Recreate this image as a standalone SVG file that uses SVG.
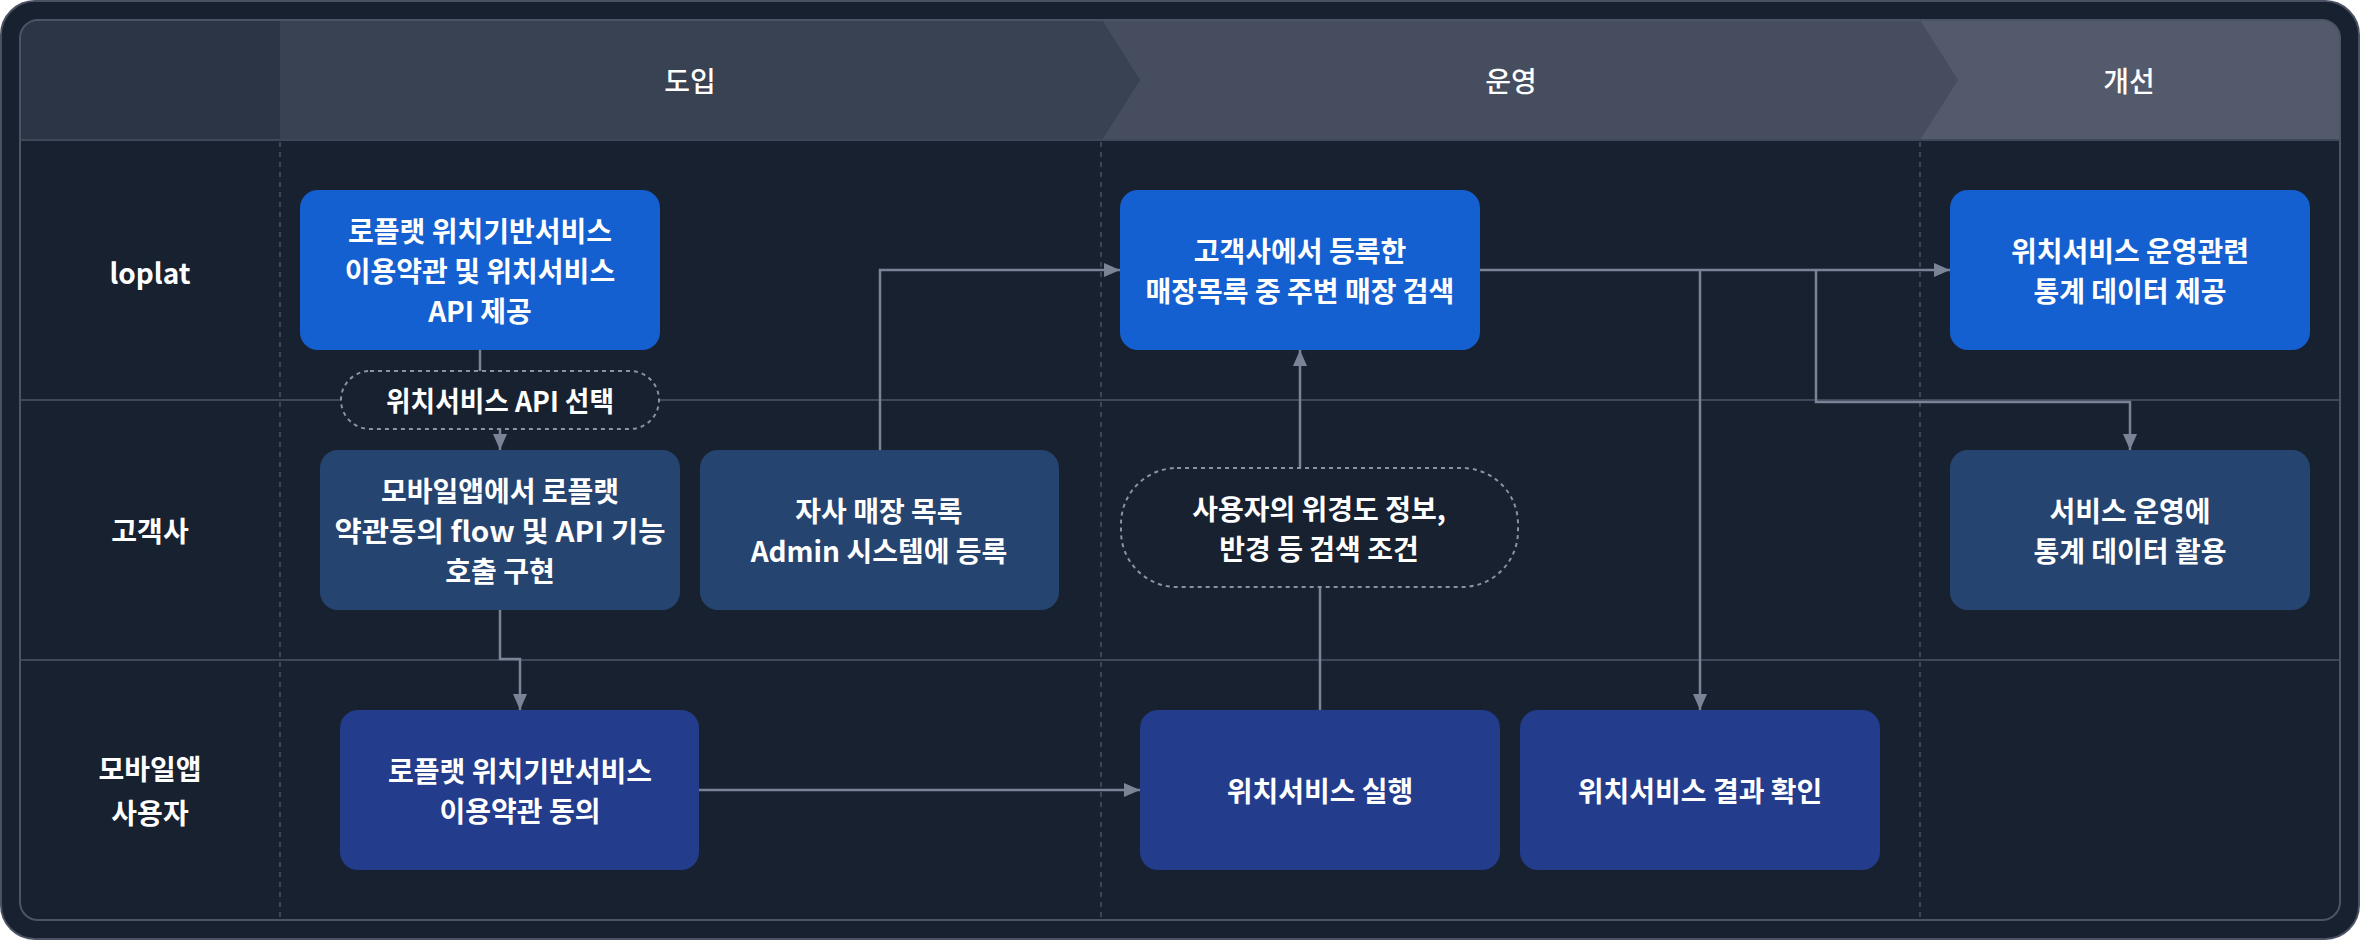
<svg xmlns="http://www.w3.org/2000/svg" width="2360" height="940" viewBox="0 0 2360 940">
<style>
.lane{stroke:#3f4758;stroke-width:2;fill:none}
.col{stroke:#4a5263;stroke-width:1.5;stroke-dasharray:5 5;fill:none}
.conn{stroke:#7a8496;stroke-width:2.5;fill:none}
.t{font-family:"Noto Sans CJK KR","Noto Sans",sans-serif;fill:#ffffff;text-anchor:middle;dominant-baseline:central}
.nt{font-size:28px;font-weight:600}
.ht{font-size:28px;font-weight:500}
.lt{font-size:28px;font-weight:700}
.b1{fill:#1560d0}
.b2{fill:#264470}
.b3{fill:#233c8b}
.pill{fill:#182130;stroke:#8a93a3;stroke-width:2;stroke-dasharray:4 4}
</style>
<defs>
<clipPath id="card"><rect x="20" y="20" width="2320" height="900" rx="18"/></clipPath>
<marker id="ah" markerUnits="userSpaceOnUse" markerWidth="16" markerHeight="16" viewBox="0 0 16 16" refX="16" refY="8" orient="auto"><path d="M0,1 L16,8 L0,15 Z" fill="#7a8496"/></marker>
</defs>
<rect x="1" y="1" width="2358" height="938" rx="34" fill="#18212f" stroke="#4a5162" stroke-width="2"/>
<rect x="20" y="20" width="2320" height="900" rx="18" fill="#182130"/>
<g id="header" clip-path="url(#card)">
<rect x="1100" y="20" width="1240" height="120" fill="#525a6c"/>
<polygon points="1100,20 1920,20 1958,80 1920,140 1100,140" fill="#454d5f"/>
<polygon points="280,20 1102,20 1140,80 1102,140 280,140" fill="#384252"/>
<rect x="20" y="20" width="260" height="120" fill="#2b3545"/>
<text class="t ht" x="690" y="80">도입</text>
<text class="t ht" x="1511" y="80">운영</text>
<text class="t ht" x="2129" y="80">개선</text>
</g>
<g id="grid">
<line class="lane" x1="20" y1="140" x2="2340" y2="140"/>
<line class="lane" x1="20" y1="400" x2="2340" y2="400"/>
<line class="lane" x1="20" y1="660" x2="2340" y2="660"/>
<line class="col" x1="280" y1="142" x2="280" y2="918"/>
<line class="col" x1="1101" y1="142" x2="1101" y2="918"/>
<line class="col" x1="1920" y1="142" x2="1920" y2="918"/>
</g>
<rect x="20" y="20" width="2320" height="900" rx="18" fill="none" stroke="#4b5365" stroke-width="2"/>
<g id="lanes">
<text class="t lt" x="150" y="272">loplat</text>
<text class="t lt" x="150" y="530">고객사</text>
<text class="t lt" x="150" y="768">모바일앱</text>
<text class="t lt" x="150" y="812">사용자</text>
</g>
<g id="connectors">
<path class="conn" d="M480,350 V371"/>
<path class="conn" d="M500,429 V450" marker-end="url(#ah)"/>
<path class="conn" d="M500,610 V659 H520 V710" marker-end="url(#ah)"/>
<path class="conn" d="M880,450 V270 H1120" marker-end="url(#ah)"/>
<path class="conn" d="M699,790 H1140" marker-end="url(#ah)"/>
<path class="conn" d="M1320,710 V587"/>
<path class="conn" d="M1300,468 V350" marker-end="url(#ah)"/>
<path class="conn" d="M1480,270 H1950" marker-end="url(#ah)"/>
<path class="conn" d="M1700,270 V710" marker-end="url(#ah)"/>
<path class="conn" d="M1816,270 V402 H2130 V450" marker-end="url(#ah)"/>
</g>
<g id="n1"><rect class="b1" x="300" y="190" width="360" height="160" rx="18"/>
<text class="t nt" x="480" y="230">로플랫 위치기반서비스</text>
<text class="t nt" x="480" y="270">이용약관 및 위치서비스</text>
<text class="t nt" x="480" y="310">API 제공</text></g>
<g id="n2"><rect class="b1" x="1120" y="190" width="360" height="160" rx="18"/>
<text class="t nt" x="1300" y="250">고객사에서 등록한</text>
<text class="t nt" x="1300" y="290">매장목록 중 주변 매장 검색</text></g>
<g id="n3"><rect class="b1" x="1950" y="190" width="360" height="160" rx="18"/>
<text class="t nt" x="2130" y="250">위치서비스 운영관련</text>
<text class="t nt" x="2130" y="290">통계 데이터 제공</text></g>
<g id="p1"><rect class="pill" x="341" y="371" width="318" height="58" rx="29"/>
<text class="t nt" x="500" y="400" textLength="228" lengthAdjust="spacingAndGlyphs">위치서비스 API 선택</text></g>
<g id="n4"><rect class="b2" x="320" y="450" width="360" height="160" rx="18"/>
<text class="t nt" x="500" y="490">모바일앱에서 로플랫</text>
<text class="t nt" x="500" y="530" textLength="331" lengthAdjust="spacingAndGlyphs">약관동의 flow 및 API 기능</text>
<text class="t nt" x="500" y="570">호출 구현</text></g>
<g id="n5"><rect class="b2" x="700" y="450" width="359" height="160" rx="18"/>
<text class="t nt" x="879" y="510">자사 매장 목록</text>
<text class="t nt" x="879" y="550">Admin 시스템에 등록</text></g>
<g id="n6"><rect class="pill" x="1121" y="468" width="397" height="119" rx="56"/>
<text class="t nt" x="1319" y="508">사용자의 위경도 정보,</text>
<text class="t nt" x="1319" y="548">반경 등 검색 조건</text></g>
<g id="n7"><rect class="b2" x="1950" y="450" width="360" height="160" rx="18"/>
<text class="t nt" x="2130" y="510">서비스 운영에</text>
<text class="t nt" x="2130" y="550">통계 데이터 활용</text></g>
<g id="n8"><rect class="b3" x="340" y="710" width="359" height="160" rx="18"/>
<text class="t nt" x="520" y="770">로플랫 위치기반서비스</text>
<text class="t nt" x="520" y="810">이용약관 동의</text></g>
<g id="n9"><rect class="b3" x="1140" y="710" width="360" height="160" rx="18"/>
<text class="t nt" x="1320" y="790">위치서비스 실행</text></g>
<g id="n10"><rect class="b3" x="1520" y="710" width="360" height="160" rx="18"/>
<text class="t nt" x="1700" y="790">위치서비스 결과 확인</text></g>
</svg>
